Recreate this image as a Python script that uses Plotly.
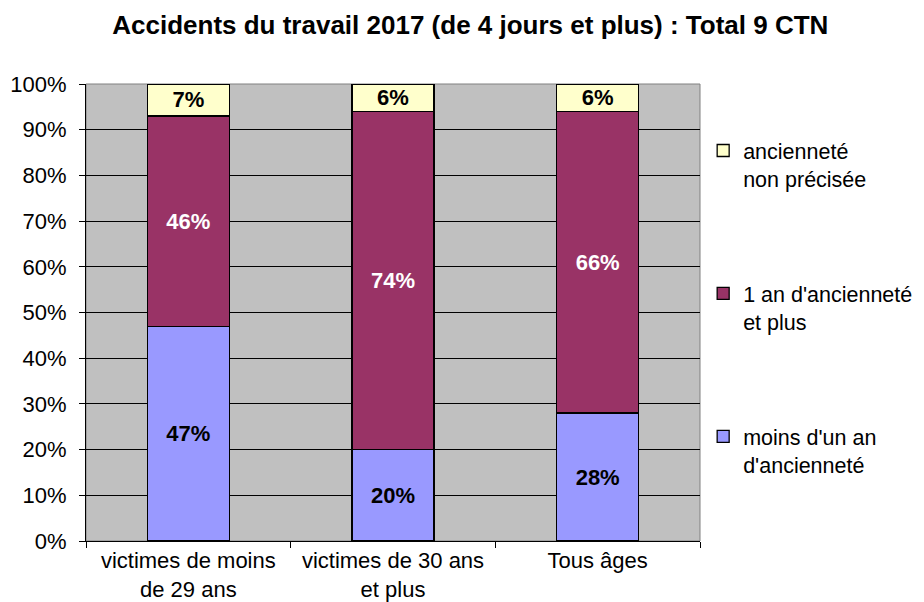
import plotly.graph_objects as go

categories = ["victimes de moins<br>de 29 ans", "victimes de 30 ans<br>et plus", "Tous âges"]
moins_un_an = [47, 20, 28]
un_an_plus = [46, 74, 66]
non_precisee = [7, 6, 6]
series_names = ["moins d'un an<br>d'ancienneté", "1 an d'ancienneté<br>et plus", "ancienneté<br>non précisée"]
y_ticks = [0, 10, 20, 30, 40, 50, 60, 70, 80, 90, 100]

FONT = "Liberation Sans, Arial, sans-serif"
colors = ["#9999FF", "#993366", "#FFFFCC"]
label_colors = ["black", "white", "black"]
ranks = [3, 2, 1]

fig = go.Figure()
for i, (name, vals) in enumerate(zip(series_names, [moins_un_an, un_an_plus, non_precisee])):
    fig.add_trace(go.Bar(
        x=categories, y=vals, name=name, legendgroup=str(i), legendrank=ranks[i],
        marker=dict(color=colors[i], line=dict(color="black", width=1.3)),
        text=[f"{v}%" for v in vals], textposition="inside", insidetextanchor="middle",
        textfont=dict(family=FONT, size=22, color=label_colors[i], weight="bold"),
        textangle=0, cliponaxis=False,
    ))

fig.update_layout(
    barmode="stack", bargap=0.6,
    width=924, height=602,
    margin=dict(l=86, r=224, t=84, b=61, autoexpand=False),
    paper_bgcolor="white", plot_bgcolor="#C0C0C0",
    font=dict(family=FONT, size=22, color="black"),
    title=dict(text="<b>Accidents du travail 2017 (de 4 jours et plus) : Total 9 CTN</b>",
               x=0.509, xref="container", xanchor="center", y=0.958, yanchor="middle",
               font=dict(family=FONT, size=26, color="black")),
    uniformtext=dict(mode="show", minsize=22),
    legend=dict(x=0.761, xref="container", xanchor="left", y=0.784, yref="container", yanchor="top",
                traceorder="grouped", tracegroupgap=84, valign="top", maxheight=560,
                font=dict(family=FONT, size=21.5, color="black"),
                itemwidth=30, bgcolor="rgba(0,0,0,0)"),
    showlegend=True,
)
fig.update_yaxes(range=[0, 100], tickvals=y_ticks, ticktext=[f"{v}%" for v in y_ticks],
                 showgrid=True, gridcolor="black", gridwidth=1,
                 ticks="outside", ticklen=6, tickcolor="black", ticklabelstandoff=8,
                 showline=True, linecolor="black", linewidth=1, automargin=False,
                 tickfont=dict(family=FONT, size=22), zeroline=False)
fig.update_xaxes(tickson="boundaries", ticks="outside", ticklen=6, tickcolor="black",
                 ticklabelstandoff=0,
                 showline=True, linecolor="black", linewidth=1, automargin=False,
                 tickfont=dict(family=FONT, size=22))
fig.add_shape(type="rect", xref="paper", yref="paper", x0=0, x1=1, y0=0, y1=1,
              line=dict(color="#808080", width=1), layer="below")

fig.write_html("out.html")
